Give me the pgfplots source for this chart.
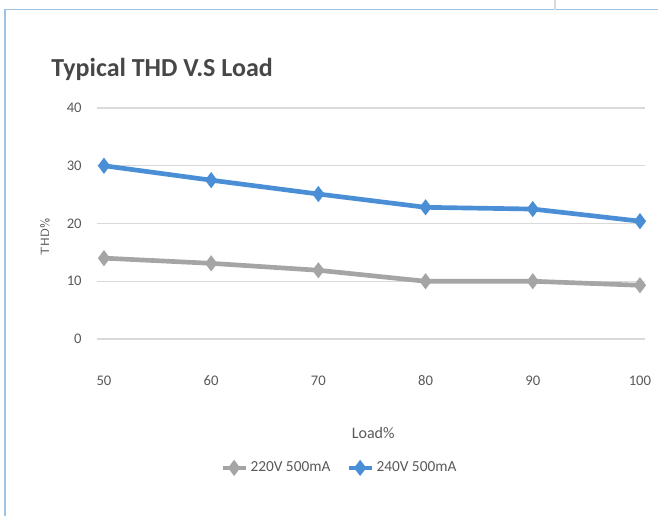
\documentclass[border=0pt]{standalone}
\usepackage{fontspec}
\setmainfont{Carlito}
\usepackage{pgfplots}
\pgfplotsset{compat=1.18}

\definecolor{thdblue}{HTML}{4A8FD6}
\definecolor{thdgray}{HTML}{A5A5A5}
\definecolor{gridgray}{HTML}{D9D9D9}
\definecolor{framebl}{HTML}{9CC3E6}
\definecolor{txtgray}{HTML}{595959}

\begin{document}
\begin{tikzpicture}
% page = 658x516 px, 1px = 0.75pt, axis origin at px (97,339)
\path[use as bounding box] (-72.75pt,-132.75pt) rectangle (420.75pt,254.25pt);
\draw[framebl, line width=1.2pt] (-69pt,-132.75pt) -- (-69pt,247pt) -- (420.75pt,247pt);
\draw[gridgray, line width=0.8pt] (343.5pt,247pt) -- (343.5pt,254.25pt);
\begin{axis}[
  at={(0,0)}, anchor=south west,
  scale only axis, clip=false,
  width=411pt, height=173.25pt,
  xmin=49.35, xmax=100.47,
  ymin=0, ymax=40,
  xtick={50,60,70,80,90,100},
  ytick={0,10,20,30,40},
  axis line style={draw=none},
  major tick length=0pt,
  ymajorgrids=true,
  grid style={gridgray, line width=0.8pt},
  /pgf/number format/assume math mode=true,
  tick label style={font=\fontsize{11}{13}\selectfont, text=txtgray},
  xticklabel style={yshift=-24pt},
  yticklabel style={xshift=-8pt},
  xlabel={Load\%},
  xlabel style={at={(axis description cs:0.504,-0.407)}, anchor=center,
    font=\fontsize{12}{14}\selectfont, text=txtgray},
  ylabel={THD\%},
  ylabel style={at={(axis description cs:-0.095,0.442)}, anchor=center,
    font=\sffamily\fontsize{9}{11}\selectfont, text=txtgray},
  legend columns=2,
  legend style={at={(axis description cs:0.443,-0.558)}, anchor=center,
    draw=none, fill=none, font=\fontsize{11.5}{13}\selectfont, text=txtgray,
    /tikz/every even column/.append style={column sep=10pt}},
  legend image post style={line width=3.5pt},
]
\addplot[thdgray, line width=3.5pt, mark=diamond*, mark size=3.2pt]
coordinates {(50,14.0)(60,13.1)(70,11.9)(80,10.0)(90,10.0)(100,9.3)};
\addlegendentry{220V 500mA}
\addplot[thdblue, line width=3.5pt, mark=diamond*, mark size=3.2pt]
coordinates {(50,30.0)(60,27.5)(70,25.1)(80,22.8)(90,22.5)(100,20.4)};
\addlegendentry{240V 500mA}
\node[anchor=west, font=\bfseries\fontsize{19.5}{22}\selectfont, text=txtgray!80!black]
  at (axis description cs:-0.092,1.165) {Typical THD V.S Load};
\end{axis}
\end{tikzpicture}
\end{document}
